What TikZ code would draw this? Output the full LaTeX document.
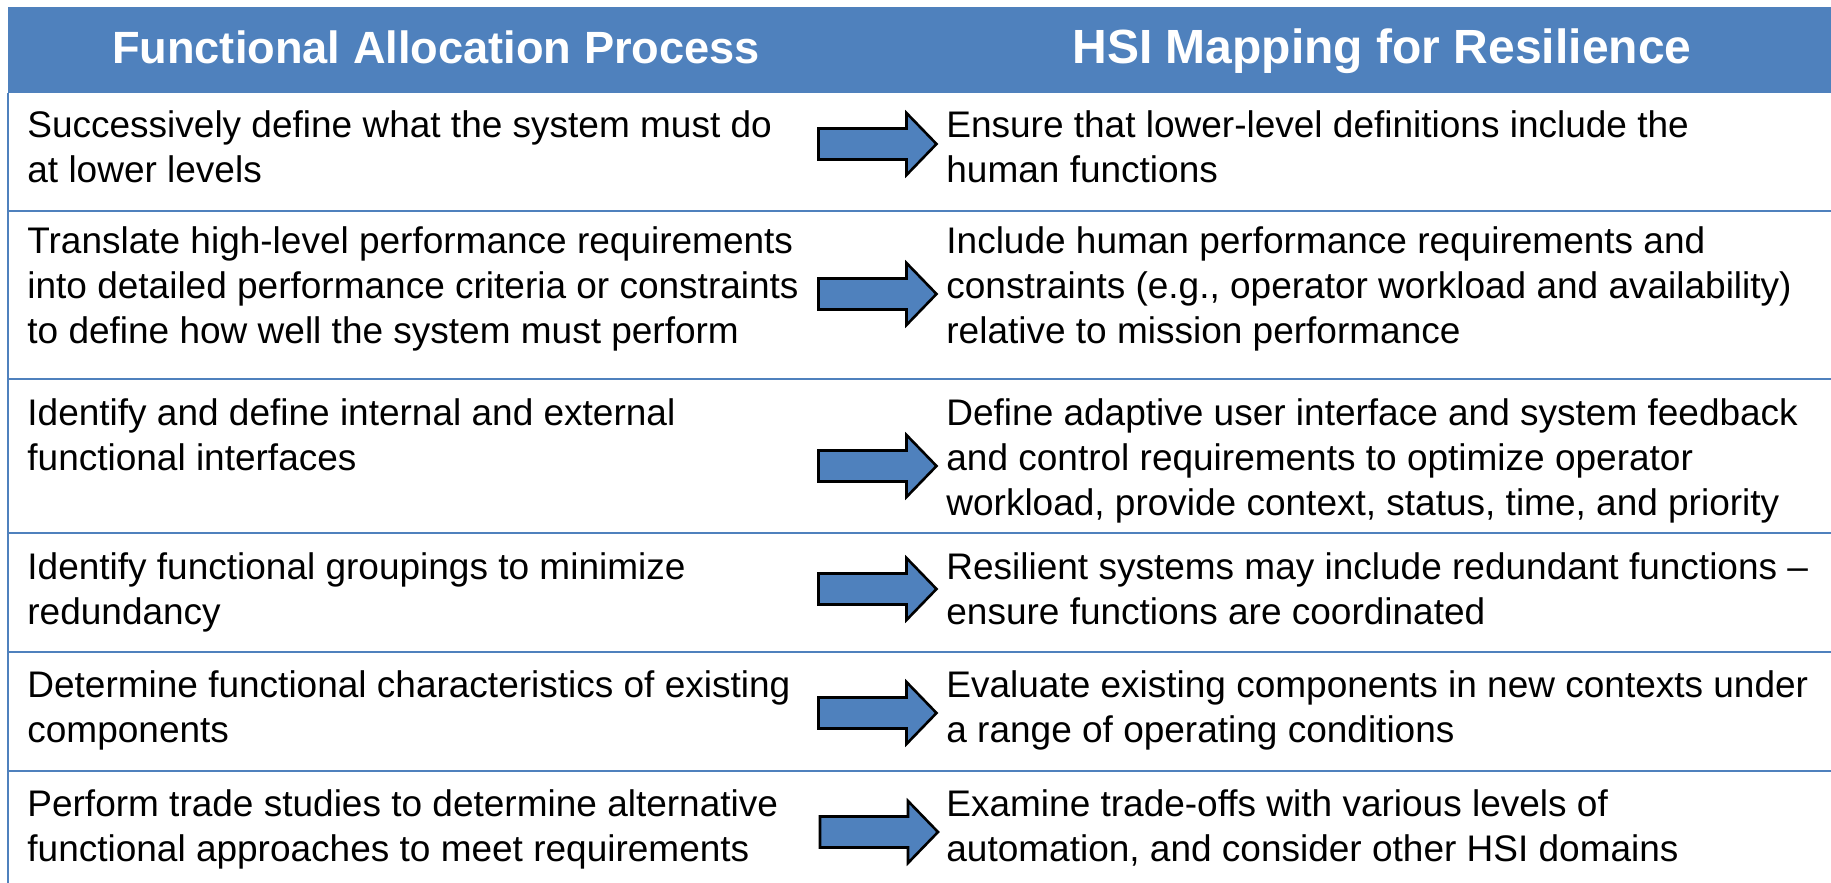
\documentclass[tikz,border=0pt]{standalone}
\usepackage{fontspec}
\setmainfont{Liberation Sans}
\definecolor{hsiblue}{HTML}{4F81BD}

\tikzset{
    celltext/.style={anchor=base west, align=left, inner sep=0pt, font=\fontsize{18.5}{22.5}\selectfont},
    headtext/.style={anchor=base, inner sep=0pt, text=white, font=\fontsize{22.6}{26}\selectfont\bfseries},
    rowline/.style={hsiblue, line width=1.2pt},
    pics/blockarrow/.style={code={
        \draw[fill=hsiblue, line width=1.3pt, line join=miter]
            (-59,15.5) -- (29,15.5) -- (29,31) -- (59,0) -- (29,-31) -- (29,-15.5) -- (-59,-15.5) -- cycle;
    }},
}

\begin{document}
\begin{tikzpicture}[x=0.5pt, y=-0.5pt]
    \useasboundingbox (0,0) rectangle (1831,883);

    % Header band
    \fill[hsiblue] (8,7) rectangle (1831,93);
    \node[headtext] (headl) at (436,64) {Functional Allocation Process};
    \node[headtext, font=\fontsize{24}{28}\selectfont\bfseries] (headr) at (1382,64) {HSI Mapping for Resilience};

    % Table rules
    \draw[rowline] (8,93) -- (8,883);
    \draw[rowline] (8,211) -- (1831,211);
    \draw[rowline] (8,379) -- (1831,379);
    \draw[rowline] (8,533) -- (1831,533);
    \draw[rowline] (8,652) -- (1831,652);
    \draw[rowline] (8,771) -- (1831,771);

    % Functional allocation steps (placed at the baseline of the last line)
    \node[celltext] (fa1) at (27,183) {Successively define what the system must do\\at lower levels};
    \node[celltext] (fa2) at (27,343) {Translate high-level performance requirements\\into detailed performance criteria or constraints\\to define how well the system must perform};
    \node[celltext] (fa3) at (27,470) {Identify and define internal and external\\functional interfaces};
    \node[celltext] (fa4) at (27,624) {Identify functional groupings to minimize\\redundancy};
    \node[celltext] (fa5) at (27,742) {Determine functional characteristics of existing\\components};
    \node[celltext] (fa6) at (27,861) {Perform trade studies to determine alternative\\functional approaches to meet requirements};

    % HSI mapping
    \node[celltext] (hsi1) at (946,183) {Ensure that lower-level definitions include the\\human functions};
    \node[celltext] (hsi2) at (946,343) {Include human performance requirements and\\constraints (e.g., operator workload and availability)\\relative to mission performance};
    \node[celltext] (hsi3) at (946,515) {Define adaptive user interface and system feedback\\and control requirements to optimize operator\\workload, provide context, status, time, and priority};
    \node[celltext] (hsi4) at (946,624) {Resilient systems may include redundant functions --\\ensure functions are coordinated};
    \node[celltext] (hsi5) at (946,742) {Evaluate existing components in new contexts under\\a range of operating conditions};
    \node[celltext] (hsi6) at (946,861) {Examine trade-offs with various levels of\\automation, and consider other HSI domains};

    % Block arrows
    \pic at (877.5,144) {blockarrow};
    \pic at (877.5,294) {blockarrow};
    \pic at (877.5,466) {blockarrow};
    \pic at (877.5,589) {blockarrow};
    \pic at (877.5,713) {blockarrow};
    \pic at (879,832) {blockarrow};
\end{tikzpicture}
\end{document}
